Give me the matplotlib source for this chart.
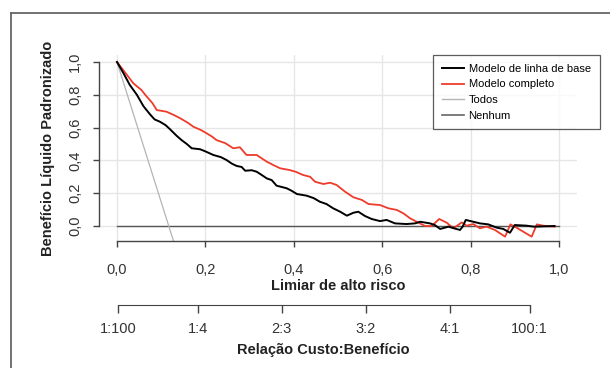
import matplotlib
matplotlib.use("Agg")
import matplotlib.pyplot as plt
from matplotlib.lines import Line2D

plt.rcParams['font.family'] = ['Liberation Sans Narrow', 'Liberation Sans', 'DejaVu Sans']

# ---- data ----
base_t = [0.0, 0.015, 0.029, 0.045, 0.06, 0.075, 0.085, 0.097, 0.11, 0.12, 0.135, 0.146, 0.158,
          0.169, 0.188, 0.2, 0.218, 0.235, 0.248, 0.26, 0.271, 0.282, 0.29, 0.305, 0.316, 0.328,
          0.339, 0.35, 0.361, 0.384, 0.395, 0.407, 0.429, 0.445, 0.459, 0.474, 0.489, 0.505,
          0.52, 0.535, 0.546, 0.561, 0.576, 0.595, 0.61, 0.629, 0.655, 0.674, 0.686, 0.708,
          0.719, 0.731, 0.75, 0.765, 0.776, 0.782, 0.789, 0.806, 0.821, 0.84, 0.859, 0.874,
          0.889, 0.9, 0.927, 0.943, 0.99]
base_v = [1.0, 0.93, 0.86, 0.80, 0.73, 0.68, 0.65, 0.636, 0.615, 0.59, 0.55, 0.524, 0.50,
          0.474, 0.468, 0.455, 0.433, 0.42, 0.402, 0.38, 0.366, 0.36, 0.337, 0.34, 0.331, 0.31,
          0.29, 0.28, 0.246, 0.23, 0.215, 0.195, 0.185, 0.17, 0.148, 0.134, 0.108, 0.087,
          0.063, 0.081, 0.087, 0.061, 0.043, 0.030, 0.037, 0.016, 0.012, 0.016, 0.026, 0.016,
          0.006, -0.018, -0.004, -0.016, -0.024, -0.004, 0.037, 0.026, 0.016, 0.01, -0.01, -0.018,
          -0.041, 0.006, 0.002, -0.004, 0.0]

full_t = [0.0, 0.02, 0.037, 0.055, 0.067, 0.08, 0.09, 0.112, 0.13, 0.143, 0.16, 0.173, 0.19,
          0.203, 0.215, 0.225, 0.245, 0.263, 0.278, 0.293, 0.316, 0.339, 0.355, 0.369, 0.391,
          0.405, 0.421, 0.437, 0.448, 0.467, 0.482, 0.497, 0.516, 0.535, 0.554, 0.569, 0.595,
          0.614, 0.633, 0.648, 0.663, 0.678, 0.697, 0.712, 0.729, 0.746, 0.761, 0.78, 0.791,
          0.806, 0.821, 0.836, 0.855, 0.878, 0.89, 0.9, 0.938, 0.95, 0.964, 0.99]
full_v = [1.0, 0.93, 0.87, 0.83, 0.79, 0.75, 0.707, 0.697, 0.675, 0.657, 0.63, 0.605, 0.585,
          0.565, 0.545, 0.524, 0.505, 0.474, 0.48, 0.433, 0.433, 0.392, 0.37, 0.352, 0.341,
          0.33, 0.311, 0.30, 0.27, 0.256, 0.264, 0.25, 0.209, 0.175, 0.159, 0.134, 0.128,
          0.108, 0.098, 0.077, 0.047, 0.026, 0.0, 0.0, 0.043, 0.02, -0.014, 0.022, 0.002,
          0.012, -0.014, -0.004, -0.024, -0.065, 0.01, -0.004, -0.065, 0.01, 0.002, -0.004]

all_t = [0.0, 0.13]
all_v = [1.0, -0.11]

none_t = [0.0, 1.0]
none_v = [0.0, 0.0]

x_ticks = [0.0, 0.2, 0.4, 0.6, 0.8, 1.0]
x_labels = ['0,0', '0,2', '0,4', '0,6', '0,8', '1,0']
y_ticks = [0.0, 0.2, 0.4, 0.6, 0.8, 1.0]
y_labels = ['0,0', '0,2', '0,4', '0,6', '0,8', '1,0']
cb_ticks = [1/101, 0.2, 0.4, 0.6, 0.8, 100/101]
cb_labels = ['1:100', '1:4', '2:3', '3:2', '4:1', '100:1']
legend_labels = ['Modelo de linha de base', 'Modelo completo', 'Todos', 'Nenhum']

W, H = 610, 368
fig = plt.figure(figsize=(W/100, H/100), dpi=100)

def fx(px):
    return px / W
def fy(py):
    return 1 - py / H

# outer frame (left and top edges)
fig.add_artist(Line2D([fx(11), fx(11)], [fy(13), fy(400)], transform=fig.transFigure,
                      color='#666666', lw=1.3))
fig.add_artist(Line2D([fx(11), fx(620)], [fy(13), fy(13)], transform=fig.transFigure,
                      color='#666666', lw=1.3))

# main axes
left, right, top, bottom = 99.3, 576.7, 55.1, 241.1
ax = fig.add_axes([fx(left), fy(bottom), fx(right) - fx(left), fy(top) - fy(bottom)])
ax.set_xlim(-0.04, 1.04)
ax.set_ylim(-0.092, 1.042)
ax.set_facecolor('none')

for v in y_ticks:
    ax.axhline(v, color='#e6e6e6', lw=1.0, zorder=0)
for v in x_ticks:
    ax.axvline(v, color='#e6e6e6', lw=1.0, zorder=0)

ax.plot(none_t, none_v, color='#555555', lw=1.0, zorder=2)
ax.plot(all_t, all_v, color='#b4b4b4', lw=0.9, zorder=2)
ax.plot(full_t, full_v, color='#ee3b2b', lw=1.3, zorder=3)
ax.plot(base_t, base_v, color='#000000', lw=1.4, zorder=4)

for s in ['top', 'right']:
    ax.spines[s].set_visible(False)
ax.spines['left'].set_bounds(0, 1)
ax.spines['bottom'].set_bounds(0, 1)
for s in ['left', 'bottom']:
    ax.spines[s].set_color('#444444')
    ax.spines[s].set_linewidth(1.0)

ax.set_xticks(x_ticks)
ax.set_xticklabels(x_labels, fontsize=10.5, color='#333333')
ax.set_yticks(y_ticks)
ax.set_yticklabels(y_labels, fontsize=10.5, color='#333333', rotation=90, va='center')
ax.tick_params(axis='both', direction='out', length=4.5, width=1.0, color='#444444')
ax.tick_params(axis='x', pad=11)
ax.tick_params(axis='y', pad=8)

ax.set_xlabel('Limiar de alto risco', fontsize=10.5, fontweight='bold', color='#222222', labelpad=2)
ax.set_ylabel('Benefício Líquido Padronizado', fontsize=10.5, fontweight='bold',
              color='#222222', labelpad=9)

handles = [Line2D([], [], color='#000000', lw=1.4),
           Line2D([], [], color='#ee3b2b', lw=1.3),
           Line2D([], [], color='#b4b4b4', lw=1.0),
           Line2D([], [], color='#666666', lw=1.2)]
leg = fig.legend(handles, legend_labels, loc='upper left',
                 bbox_to_anchor=(fx(433), fy(55)),
                 bbox_transform=fig.transFigure,
                 fontsize=8, frameon=True, fancybox=False, edgecolor='#333333',
                 handlelength=2.0, handletextpad=0.4, labelspacing=0.5,
                 borderpad=0.8, borderaxespad=0)
leg.get_frame().set_linewidth(0.9)
leg.get_frame().set_facecolor('white')

# secondary cost:benefit axis
x0 = 113.7
ax2 = fig.add_axes([fx(x0), fy(305), fx(420), 0.001])
ax2.set_xlim(0, 1)
ax2.set_ylim(0, 1)
ax2.set_facecolor('none')
for s in ['top', 'right', 'left']:
    ax2.spines[s].set_visible(False)
ax2.spines['bottom'].set_bounds(cb_ticks[0], cb_ticks[-1])
ax2.spines['bottom'].set_color('#444444')
ax2.set_yticks([])
ax2.set_xticks(cb_ticks)
ax2.set_xticklabels(cb_labels, fontsize=10.5, color='#333333')
ax2.tick_params(axis='x', direction='out', length=5.5, width=1.0, color='#444444', pad=7)
ax2.set_xlabel('Relação Custo:Benefício', fontsize=10.5, fontweight='bold', color='#222222',
               labelpad=5)

fig.savefig('out.png', dpi=100)
